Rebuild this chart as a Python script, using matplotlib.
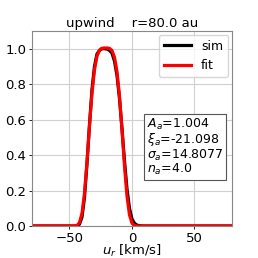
import matplotlib
matplotlib.use('Agg')
import matplotlib.pyplot as plt
import numpy as np

# velocity grid [km/s]
u_r = [-80, -60, -50, -46, -44, -42, -40, -38, -36, -34, -32, -30, -28, -26, -24,
       -22, -20, -18, -16, -14, -12, -10, -8, -6, -4, -2, 0, 2, 4, 6, 8, 10, 20, 40, 60, 80]

# simulated distribution (normalised)
sim = [0.0, 0.0, 0.0, 0.0, 0.001, 0.01, 0.05, 0.16, 0.35, 0.57, 0.77, 0.90, 0.97, 0.99, 1.0,
       1.0, 0.998, 0.99, 0.975, 0.93, 0.85, 0.72, 0.55, 0.37, 0.21, 0.10, 0.04, 0.015, 0.005,
       0.002, 0.0005, 0.0, 0.0, 0.0, 0.0, 0.0]

# fitted distribution
fit = [0.0, 0.0, 0.0, 0.0003, 0.003, 0.019, 0.071, 0.184, 0.360, 0.564, 0.748, 0.881, 0.958,
       0.992, 1.0025, 1.004, 1.004, 1.002, 0.990, 0.952, 0.871, 0.733, 0.545, 0.342, 0.170,
       0.063, 0.016, 0.0027, 0.0003, 0.0, 0.0, 0.0, 0.0, 0.0, 0.0, 0.0]

fit_text = '$A_a$=1.004\n$\\xi_a$=-21.098\n$\\sigma_a$=14.8077\n$n_a$=4.0'

fig = plt.figure(figsize=(2.58, 2.58), dpi=100)
ax = fig.add_axes([0.124, 0.124, 0.775, 0.756])

ax.plot(u_r, sim, color='black', lw=2.3, label='sim')
ax.plot(u_r, fit, color='red', lw=2.3, label='fit')

ax.set_xlim(-80, 80)
ax.set_ylim(0, 1.1)
ax.set_xticks([-50, 0, 50])
ax.set_yticks([0.0, 0.2, 0.4, 0.6, 0.8, 1.0])
ax.tick_params(labelsize=9.5, pad=1.5, length=2.5, width=0.6)
for s in ax.spines.values():
    s.set_color('#888888')
    s.set_linewidth(0.8)
ax.grid(True, color='#d0d0d0', lw=0.8)
ax.set_xlabel('$u_r$ [km/s]', fontsize=9.5, labelpad=-1)
ax.set_title('upwind    r=80.0 au', fontsize=9.5, pad=3)

ax.legend(loc='upper right', fontsize=9, handlelength=2.2, borderaxespad=0.3)
ax.text(0.575, 0.56, fit_text, transform=ax.transAxes, fontsize=9, va='top',
        linespacing=0.95,
        bbox=dict(boxstyle='square,pad=0.2', fc='white', ec='#555555', lw=0.8))

fig.savefig('out.png', dpi=100)
